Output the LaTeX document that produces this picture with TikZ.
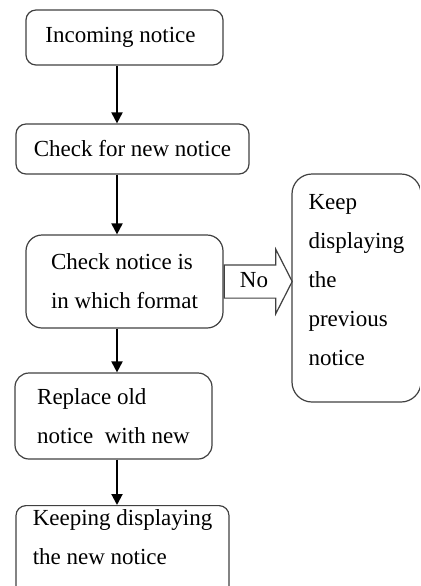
\documentclass[tikz,border=0pt]{standalone}
\usepackage{fontspec}
\setmainfont{Liberation Serif}
\usepackage{tikz}
\usetikzlibrary{shapes,arrows,arrows.meta,positioning}
\definecolor{boxgray}{RGB}{64,64,64}

\begin{document}
\begin{tikzpicture}[x=0.5pt, y=-0.5pt,
    font=\fontsize{11.5}{19.5}\selectfont,
    stepbox/.style={draw=boxgray, line width=0.6pt, rounded corners=5pt, align=left, inner sep=2pt},
    flow/.style={line width=1pt, -{Triangle[length=5.5pt, width=5.5pt]}}]
    \clip (0,0) rectangle (420,586);
    \coordinate (spine) at (117,0);
    % main column
    \node[stepbox, minimum width=98.5pt, minimum height=27.5pt] (inc) at (124.5,37.5) {Incoming notice\hspace{4pt}};
    \node[stepbox, minimum width=116.5pt, minimum height=25pt] (newchk) at (132.5,149) {Check for new notice};
    \node[stepbox, rounded corners=8pt, minimum width=98.5pt, minimum height=46.5pt] (fmt) at (124.5,281.5) {Check notice is\\in which format};
    \node[stepbox, rounded corners=7pt, minimum width=98.5pt, minimum height=43pt] (repl) at (113.5,416) {Replace old\\notice~ with new};
    \node[stepbox, minimum width=106.5pt, anchor=north] (keep) at (122.5,505) {Keeping displaying\\the new notice\\ \mbox{}};
    % side branch
    \node[stepbox, rounded corners=10pt, minimum width=64.5pt, minimum height=114pt] (prev) at (356.5,288) {Keep\\displaying\\the\\previous\\notice\rule[-8pt]{0pt}{8pt}};
    \node[draw=boxgray, line width=0.6pt, single arrow, single arrow head extend=7.75pt, single arrow tip angle=126,
          minimum height=34pt, text height=7.5pt, text depth=2pt, inner ysep=3.25pt, anchor=tail] (no) at (fmt.east) {No};
    \draw[flow] (inc.south -| spine) -- (newchk.north -| spine);
    \draw[flow] (newchk.south -| spine) -- (fmt.north -| spine);
    \draw[flow] (fmt.south -| spine) -- (repl.north -| spine);
    \draw[flow] (repl.south -| spine) -- (keep.north -| spine);
\end{tikzpicture}
\end{document}
